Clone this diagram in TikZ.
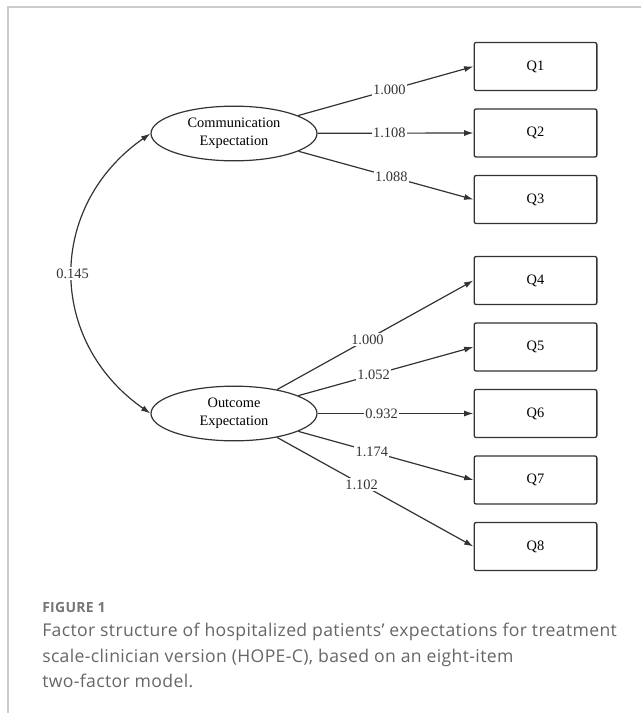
\documentclass[tikz,border=0pt]{standalone}
\usepackage{fontspec}
\setmainfont{Liberation Serif}
\newfontfamily\capfont[LetterSpace=2]{Open Sans}
\usetikzlibrary{shapes.geometric}
\usetikzlibrary{arrows.meta}
\definecolor{linegray}{HTML}{333333}
\definecolor{framegray}{HTML}{CCCCCC}
\definecolor{capgray}{HTML}{666666}
\tikzset{
  factor/.style={ellipse, draw=linegray, line width=0.9pt, minimum width=124.5pt, minimum height=41pt, inner sep=0pt, align=center, font=\fontsize{10.8}{13.5}\selectfont},
  item/.style={rectangle, rounded corners=1.5pt, draw=linegray, line width=1pt, minimum width=92pt, minimum height=36pt, font=\fontsize{10.8}{13}\selectfont},
  load/.style={-{Latex[length=7pt,width=4.5pt]}, draw=linegray, line width=0.9pt},
  cov/.style={{Latex[length=7pt,width=4.5pt]}-{Latex[length=7pt,width=4.5pt]}, draw=linegray, line width=0.9pt},
  coef/.style={fill=white, inner sep=1pt, font=\fontsize{10.8}{13}\selectfont, text=linegray}
}

\begin{document}
\begin{tikzpicture}[x=0.75pt,y=0.75pt]
\useasboundingbox (0,0) rectangle (641,-713);
\draw[framegray, line width=1.5pt] (641,-7.5) -- (8,-7.5) -- (8,-713);

\node[factor] (Comm) at (234,-133.5) {Communication\\Expectation};
\node[factor] (Outc) at (234,-413.5) {Outcome\\Expectation};

\node[item] (Q1) at (535.5,-66.5) {Q1};
\node[item] (Q2) at (535.5,-133) {Q2};
\node[item] (Q3) at (535.5,-199.5) {Q3};
\node[item] (Q4) at (535.5,-280.5) {Q4};
\node[item] (Q5) at (535.5,-347) {Q5};
\node[item] (Q6) at (535.5,-413.5) {Q6};
\node[item] (Q7) at (535.5,-480) {Q7};
\node[item] (Q8) at (535.5,-546.5) {Q8};

\draw[load] (Comm) -- node[coef, pos=0.52] {1.000} (Q1.west);
\draw[load] (Comm) -- node[coef, pos=0.46] {1.108} (Q2.west);
\draw[load] (Comm) -- node[coef, pos=0.53] {1.088} (Q3.west);

\draw[load] (Outc) -- node[coef, pos=0.46] {1.000} (Q4.west);
\draw[load] (Outc) -- node[coef, pos=0.43] {1.052} (Q5.west);
\draw[load] (Outc) -- node[coef, pos=0.41] {0.932} (Q6.west);
\draw[load] (Outc) -- node[coef, pos=0.42] {1.174} (Q7.west);
\draw[load] (Outc) -- node[coef, pos=0.43] {1.102} (Q8.west);

\draw[cov] (Comm.west) to[out=215, in=145, looseness=1.16] node[coef] {0.145} (Outc.west);

\node[anchor=base west, inner sep=0pt, text=capgray!90, font=\capfont\bfseries\fontsize{10.5}{12}\selectfont] (fig) at (42,-612) {FIGURE 1};
\node[anchor=north west, inner sep=0pt, align=left, text=capgray, font=\capfont\fontsize{13.2}{19.1}\selectfont] (cap) at (42,-623) {Factor structure of hospitalized patients’ expectations for treatment\\scale-clinician version (HOPE-C), based on an eight-item\\two-factor model.};
\end{tikzpicture}
\end{document}
